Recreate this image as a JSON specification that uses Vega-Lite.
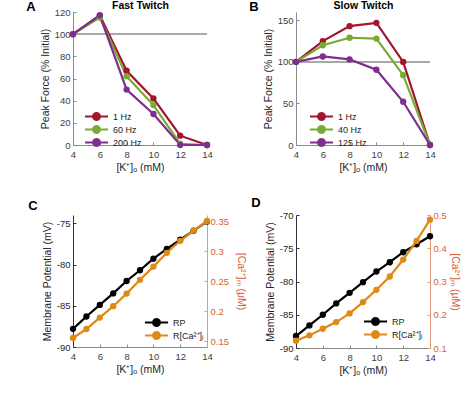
{
  "$schema": "https://vega.github.io/schema/vega-lite/v6.json",
  "padding": {"left": 26, "top": 0, "right": 2, "bottom": 2},
  "config": {
    "font": "Liberation Sans",
    "view": {"stroke": null},
    "axis": {"grid": false, "domainColor": "#8a8a8a", "tickColor": "#8a8a8a", "tickSize": -3, "labelPadding": 6, "labelColor": "#404040", "labelFontSize": 9.5, "titleFontSize": 10.5, "titleFontWeight": "normal", "titleColor": "#262626", "titlePadding": 4, "labelFlush": false, "labelOverlap": false, "tickCount": 20},
    "axisX": {"labelPadding": 7},
    "legend": {"symbolType": "M-3.4,0H3.4M1,0L0.87,0.5L0.5,0.87L0,1L-0.5,0.87L-0.87,0.5L-1,0L-0.87,-0.5L-0.5,-0.87L0,-1L0.5,-0.87L0.87,-0.5Z", "symbolSize": 46, "symbolStrokeWidth": 2.2, "labelOffset": 12, "labelFontSize": 9, "labelColor": "#222222", "rowPadding": -11.5, "padding": 0},
    "title": {"fontSize": 13, "fontWeight": "bold", "anchor": "start", "frame": "bounds", "dx": -14, "color": "#000000"}
  },
  "resolve": {"scale": {"color": "independent"}, "legend": {"color": "independent"}},
  "columns": 2,
  "spacing": {"row": 24, "column": 3},
  "concat": [
    {
      "title": {"text": "A", "offset": -14},
      "width": 134, "height": 133,
      "data": {"values": [
        {"s": "1 Hz", "k": 4, "v": 100}, {"s": "1 Hz", "k": 6, "v": 117}, {"s": "1 Hz", "k": 8, "v": 67}, {"s": "1 Hz", "k": 10, "v": 42}, {"s": "1 Hz", "k": 12, "v": 8.4}, {"s": "1 Hz", "k": 14, "v": 0},
        {"s": "60 Hz", "k": 4, "v": 100}, {"s": "60 Hz", "k": 6, "v": 115}, {"s": "60 Hz", "k": 8, "v": 62}, {"s": "60 Hz", "k": 10, "v": 36}, {"s": "60 Hz", "k": 12, "v": 1}, {"s": "60 Hz", "k": 14, "v": 0},
        {"s": "200 Hz", "k": 4, "v": 100}, {"s": "200 Hz", "k": 6, "v": 117}, {"s": "200 Hz", "k": 8, "v": 50}, {"s": "200 Hz", "k": 10, "v": 28}, {"s": "200 Hz", "k": 12, "v": 0}, {"s": "200 Hz", "k": 14, "v": 0}
      ]},
      "layer": [
        {"mark": {"type": "rule", "color": "#a8a8a8", "strokeWidth": 0.8}, "encoding": {"y": {"datum": 100, "type": "quantitative"}}},
        {"mark": {"type": "line", "strokeWidth": 2.2}, "encoding": {
          "x": {"field": "k", "type": "quantitative", "scale": {"domain": [4, 14]}, "axis": {"orient": "bottom", "values": [4, 6, 8, 10, 12, 14], "format": "d", "tickCount": 20, "labelOverlap": false, "title": "[K⁺]ₒ (mM)"}},
          "y": {"field": "v", "type": "quantitative", "scale": {"domain": [0, 120]}, "axis": {"values": [0, 20, 40, 60, 80, 100, 120], "format": "d", "tickCount": 20, "labelOverlap": false, "title": "Peak Force (% Initial)"}},
          "color": {"field": "s", "type": "nominal", "scale": {"domain": ["1 Hz", "60 Hz", "200 Hz"], "range": ["#A2142F", "#77AC30", "#7E2F8E"]}, "legend": {"orient": "none", "legendX": 19, "legendY": 100, "title": null}}
        }},
        {"mark": {"type": "point", "filled": true, "size": 40, "opacity": 1}, "encoding": {
          "x": {"field": "k", "type": "quantitative", "axis": {"orient": "top", "title": "Fast Twitch", "labels": false, "ticks": false, "domain": false, "titleFontWeight": "bold", "titleFontSize": 10.5, "titleColor": "#000000", "titlePadding": 2}},
          "y": {"field": "v", "type": "quantitative"},
          "color": {"field": "s", "type": "nominal"}
        }}
      ]
    },
    {
      "title": {"text": "B", "offset": -14},
      "width": 134, "height": 133,
      "data": {"values": [
        {"s": "1 Hz", "k": 4, "v": 100}, {"s": "1 Hz", "k": 6, "v": 125}, {"s": "1 Hz", "k": 8, "v": 143}, {"s": "1 Hz", "k": 10, "v": 147}, {"s": "1 Hz", "k": 12, "v": 100}, {"s": "1 Hz", "k": 14, "v": 0},
        {"s": "40 Hz", "k": 4, "v": 100}, {"s": "40 Hz", "k": 6, "v": 120}, {"s": "40 Hz", "k": 8, "v": 129}, {"s": "40 Hz", "k": 10, "v": 128}, {"s": "40 Hz", "k": 12, "v": 84}, {"s": "40 Hz", "k": 14, "v": 0},
        {"s": "125 Hz", "k": 4, "v": 100}, {"s": "125 Hz", "k": 6, "v": 106.5}, {"s": "125 Hz", "k": 8, "v": 103}, {"s": "125 Hz", "k": 10, "v": 90.5}, {"s": "125 Hz", "k": 12, "v": 52}, {"s": "125 Hz", "k": 14, "v": 0}
      ]},
      "layer": [
        {"mark": {"type": "rule", "color": "#a8a8a8", "strokeWidth": 0.8}, "encoding": {"y": {"datum": 100, "type": "quantitative"}}},
        {"mark": {"type": "line", "strokeWidth": 2.2}, "encoding": {
          "x": {"field": "k", "type": "quantitative", "scale": {"domain": [4, 14]}, "axis": {"orient": "bottom", "values": [4, 6, 8, 10, 12, 14], "format": "d", "tickCount": 20, "labelOverlap": false, "title": "[K⁺]ₒ (mM)"}},
          "y": {"field": "v", "type": "quantitative", "scale": {"domain": [0, 150]}, "axis": {"values": [0, 50, 100, 150], "format": "d", "tickCount": 20, "labelOverlap": false, "title": "Peak Force (% Initial)"}},
          "color": {"field": "s", "type": "nominal", "scale": {"domain": ["1 Hz", "40 Hz", "125 Hz"], "range": ["#A2142F", "#77AC30", "#7E2F8E"]}, "legend": {"orient": "none", "legendX": 21, "legendY": 100, "title": null}}
        }},
        {"mark": {"type": "point", "filled": true, "size": 40, "opacity": 1}, "encoding": {
          "x": {"field": "k", "type": "quantitative", "axis": {"orient": "top", "title": "Slow Twitch", "labels": false, "ticks": false, "domain": false, "titleFontWeight": "bold", "titleFontSize": 10.5, "titleColor": "#000000", "titlePadding": 2}},
          "y": {"field": "v", "type": "quantitative"},
          "color": {"field": "s", "type": "nominal"}
        }}
      ]
    },
    {
      "title": {"text": "C", "offset": 2},
      "width": 134, "height": 132,
      "data": {"values": [
        {"k": 4, "rp": -87.8, "ca": 0.155}, {"k": 5, "rp": -86.3, "ca": 0.170}, {"k": 6, "rp": -84.9, "ca": 0.189}, {"k": 7, "rp": -83.5, "ca": 0.208}, {"k": 8, "rp": -82.0, "ca": 0.229}, {"k": 9, "rp": -80.7, "ca": 0.252}, {"k": 10, "rp": -79.3, "ca": 0.274}, {"k": 11, "rp": -78.1, "ca": 0.297}, {"k": 12, "rp": -77.0, "ca": 0.317}, {"k": 13, "rp": -75.9, "ca": 0.334}, {"k": 14, "rp": -74.8, "ca": 0.350}
      ]},
      "layer": [
        {"layer": [
          {"mark": {"type": "line", "strokeWidth": 2.2}, "encoding": {
            "x": {"field": "k", "type": "quantitative", "scale": {"domain": [4, 14]}, "axis": {"values": [4, 6, 8, 10, 12, 14], "format": "d", "tickCount": 20, "labelOverlap": false, "title": "[K⁺]ₒ (mM)"}},
            "y": {"field": "rp", "type": "quantitative", "scale": {"domain": [-90, -75]}, "axis": {"orient": "left", "values": [-90, -85, -80, -75], "tickCount": 20, "labelOverlap": false, "labelExpr": "'' + datum.value", "title": "Membrane Potential (mV)", "labelColor": "#262626", "domainColor": "#333333", "tickColor": "#333333"}},
            "color": {"datum": "RP", "type": "nominal", "scale": {"domain": ["RP", "R[Ca²⁺]ᵢ"], "range": ["#000000", "#DE8A16"]}, "legend": {"orient": "none", "legendX": 79, "legendY": 103, "title": null, "rowPadding": -8.5}}
          }},
          {"mark": {"type": "point", "filled": true, "size": 40, "opacity": 1}, "encoding": {
            "x": {"field": "k", "type": "quantitative", "axis": {"values": [4, 6, 8, 10, 12, 14], "format": "d", "tickCount": 20, "labelOverlap": false, "title": "[K⁺]ₒ (mM)"}},
            "y": {"field": "rp", "type": "quantitative"},
            "color": {"datum": "RP", "type": "nominal"}
          }}
        ]},
        {"layer": [
          {"mark": {"type": "line", "strokeWidth": 2.2}, "encoding": {
            "x": {"field": "k", "type": "quantitative", "axis": {"values": [4, 6, 8, 10, 12, 14], "format": "d", "tickCount": 20, "labelOverlap": false, "title": "[K⁺]ₒ (mM)"}},
            "y": {"field": "ca", "type": "quantitative", "scale": {"domain": [0.15, 0.35]}, "axis": {"orient": "right", "values": [0.15, 0.2, 0.25, 0.3, 0.35], "tickCount": 20, "labelOverlap": false, "format": "~g", "title": "[Ca²⁺]ₘ (μM)", "titlePadding": 7, "labelColor": "#D9603B", "titleColor": "#D9603B", "domainColor": "#E39A80", "tickColor": "#E39A80"}},
            "color": {"datum": "R[Ca²⁺]ᵢ", "type": "nominal"}
          }},
          {"mark": {"type": "point", "filled": true, "size": 40, "opacity": 1}, "encoding": {
            "x": {"field": "k", "type": "quantitative", "axis": {"values": [4, 6, 8, 10, 12, 14], "format": "d", "tickCount": 20, "labelOverlap": false, "title": "[K⁺]ₒ (mM)"}},
            "y": {"field": "ca", "type": "quantitative"},
            "color": {"datum": "R[Ca²⁺]ᵢ", "type": "nominal"}
          }}
        ]}
      ],
      "resolve": {"scale": {"y": "independent"}}
    },
    {
      "title": {"text": "D", "offset": 0},
      "width": 134, "height": 133,
      "data": {"values": [
        {"k": 4, "rp": -88.2, "ca": 0.122}, {"k": 5, "rp": -86.6, "ca": 0.138}, {"k": 6, "rp": -85.0, "ca": 0.158}, {"k": 7, "rp": -83.3, "ca": 0.178}, {"k": 8, "rp": -81.7, "ca": 0.204}, {"k": 9, "rp": -80.1, "ca": 0.238}, {"k": 10, "rp": -78.5, "ca": 0.275}, {"k": 11, "rp": -77.1, "ca": 0.315}, {"k": 12, "rp": -75.6, "ca": 0.366}, {"k": 13, "rp": -74.4, "ca": 0.422}, {"k": 14, "rp": -73.2, "ca": 0.486}
      ]},
      "layer": [
        {"layer": [
          {"mark": {"type": "line", "strokeWidth": 2.2}, "encoding": {
            "x": {"field": "k", "type": "quantitative", "scale": {"domain": [4, 14]}, "axis": {"values": [4, 6, 8, 10, 12, 14], "format": "d", "tickCount": 20, "labelOverlap": false, "title": "[K⁺]ₒ (mM)"}},
            "y": {"field": "rp", "type": "quantitative", "scale": {"domain": [-90, -70]}, "axis": {"orient": "left", "values": [-90, -85, -80, -75, -70], "tickCount": 20, "labelOverlap": false, "labelExpr": "'' + datum.value", "title": "Membrane Potential (mV)", "labelColor": "#262626", "domainColor": "#333333", "tickColor": "#333333"}},
            "color": {"datum": "RP", "type": "nominal", "scale": {"domain": ["RP", "R[Ca²⁺]ᵢ"], "range": ["#000000", "#DE8A16"]}, "legend": {"orient": "none", "legendX": 75, "legendY": 102, "title": null, "rowPadding": -8.5}}
          }},
          {"mark": {"type": "point", "filled": true, "size": 40, "opacity": 1}, "encoding": {
            "x": {"field": "k", "type": "quantitative", "axis": {"values": [4, 6, 8, 10, 12, 14], "format": "d", "tickCount": 20, "labelOverlap": false, "title": "[K⁺]ₒ (mM)"}},
            "y": {"field": "rp", "type": "quantitative"},
            "color": {"datum": "RP", "type": "nominal"}
          }}
        ]},
        {"layer": [
          {"mark": {"type": "line", "strokeWidth": 2.2}, "encoding": {
            "x": {"field": "k", "type": "quantitative", "axis": {"values": [4, 6, 8, 10, 12, 14], "format": "d", "tickCount": 20, "labelOverlap": false, "title": "[K⁺]ₒ (mM)"}},
            "y": {"field": "ca", "type": "quantitative", "scale": {"domain": [0.1, 0.5]}, "axis": {"orient": "right", "values": [0.1, 0.2, 0.3, 0.4, 0.5], "tickCount": 20, "labelOverlap": false, "format": "~g", "title": "[Ca²⁺]ₘ (μM)", "titlePadding": 3, "labelColor": "#D9603B", "titleColor": "#D9603B", "domainColor": "#E39A80", "tickColor": "#E39A80"}},
            "color": {"datum": "R[Ca²⁺]ᵢ", "type": "nominal"}
          }},
          {"mark": {"type": "point", "filled": true, "size": 40, "opacity": 1}, "encoding": {
            "x": {"field": "k", "type": "quantitative", "axis": {"values": [4, 6, 8, 10, 12, 14], "format": "d", "tickCount": 20, "labelOverlap": false, "title": "[K⁺]ₒ (mM)"}},
            "y": {"field": "ca", "type": "quantitative"},
            "color": {"datum": "R[Ca²⁺]ᵢ", "type": "nominal"}
          }}
        ]}
      ],
      "resolve": {"scale": {"y": "independent"}}
    }
  ]
}
